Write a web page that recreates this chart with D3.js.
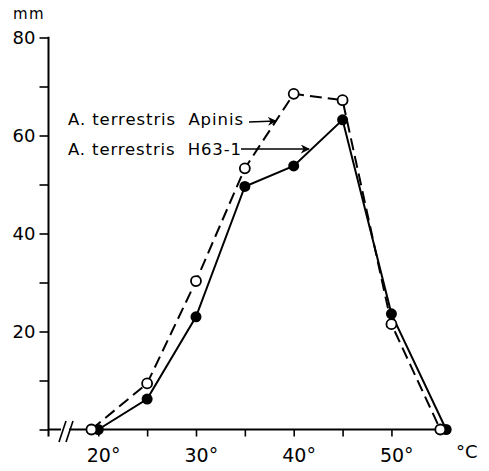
<!DOCTYPE html>
<html>
<head>
<meta charset="utf-8">
<script src="https://cdn.jsdelivr.net/npm/d3@7"></script>
<style>
  html, body { margin: 0; padding: 0; background: #fff; }
  svg { display: block; }
  text { font-family: "DejaVu Sans", "Liberation Sans", sans-serif; fill: #000; }
</style>
</head>
<body>
<svg id="chart" width="489" height="471"></svg>
<script>
// ---- data ----
const apinisTemp = [19.3, 25, 30, 35, 40, 45, 50, 55];
const apinisGrowth = [0, 9.4, 30.3, 53.3, 68.5, 67.2, 21.5, 0];
const h631Temp = [20, 25, 30, 35, 40, 45, 50, 55.6];
const h631Growth = [0, 6.2, 23.0, 49.6, 53.8, 63.2, 23.6, 0];
const xTicks = [20, 25, 30, 35, 40, 45, 50];
const xTickLabels = ["20°", "", "30°", "", "40°", "", "50°"];
const yTicks = [0, 10, 20, 30, 40, 50, 60, 70, 80];
const yTickLabels = ["", "", "20", "", "40", "", "60", "", "80"];
const seriesNames = ["A. terrestris  Apinis", "A. terrestris  H63-1"];
const yUnit = "mm";
const xUnit = "°C";

const svg = d3.select("#chart");
const x = d3.scaleLinear().domain([15, 55]).range([49.4, 440.3]);
const y = d3.scaleLinear().domain([0, 80]).range([429.5, 37.5]);

// ---- y axis ----
const yAxis = d3.axisLeft(y).tickValues(yTicks).tickSize(9)
  .tickFormat((d, i) => yTickLabels[i]);
const gy = svg.append("g").attr("transform", "translate(48.5,0)").call(yAxis);
gy.select(".domain").remove();
gy.selectAll(".tick line").attr("stroke", "#000").attr("stroke-width", 1.6);
gy.selectAll(".tick text").attr("font-size", 18).attr("x", -13).attr("dy", "0.36em")
  .attr("font-family", "DejaVu Sans");
svg.append("line").attr("x1", 48.5).attr("x2", 48.5).attr("y1", y(80) - 0.8).attr("y2", 436.5)
  .attr("stroke", "#000").attr("stroke-width", 2);
svg.append("text").attr("x", 13).attr("y", 19).attr("font-size", 15)
  .attr("letter-spacing", 1.5).text(yUnit);

// ---- x axis ----
const xAxis = d3.axisBottom(x).tickValues(xTicks).tickSize(7)
  .tickFormat((d, i) => xTickLabels[i]);
const gx = svg.append("g").attr("transform", "translate(0," + y(0) + ")").call(xAxis);
gx.select(".domain").remove();
gx.selectAll(".tick line").attr("stroke", "#000").attr("stroke-width", 1.6);
gx.selectAll(".tick text").attr("font-size", 19).attr("dy", 0).attr("y", 32)
  .attr("text-anchor", "start").attr("x", -12).attr("font-family", "DejaVu Sans");
// axis line with break
svg.append("line").attr("x1", 48).attr("x2", 61).attr("y1", y(0)).attr("y2", y(0))
  .attr("stroke", "#000").attr("stroke-width", 2);
svg.append("line").attr("x1", 69).attr("x2", 450).attr("y1", y(0)).attr("y2", y(0))
  .attr("stroke", "#000").attr("stroke-width", 2);
[[59, 66], [66, 73]].forEach(([a, b]) => {
  svg.append("line").attr("x1", a).attr("y1", 442).attr("x2", b).attr("y2", 421)
    .attr("stroke", "#000").attr("stroke-width", 1.6);
});
svg.append("text").attr("x", 456).attr("y", 458).attr("font-size", 18).text(xUnit);

// ---- series ----
const apinis = apinisTemp.map((t, i) => ({ t, g: apinisGrowth[i] }));
const h631 = h631Temp.map((t, i) => ({ t, g: h631Growth[i] }));
const line = d3.line().x(d => x(d.t)).y(d => y(d.g));

svg.append("path").datum(apinis).attr("d", line).attr("fill", "none")
  .attr("stroke", "#000").attr("stroke-width", 2).attr("stroke-dasharray", "12,6");
svg.append("path").datum(h631).attr("d", line).attr("fill", "none")
  .attr("stroke", "#000").attr("stroke-width", 2);

svg.selectAll("circle.h").data(h631).enter().append("circle").attr("class", "h")
  .attr("cx", d => x(d.t)).attr("cy", d => y(d.g)).attr("r", 5.5).attr("fill", "#000");
svg.selectAll("circle.a").data(apinis).enter().append("circle").attr("class", "a")
  .attr("cx", d => x(d.t)).attr("cy", d => y(d.g)).attr("r", 5)
  .attr("fill", "#fff").attr("stroke", "#000").attr("stroke-width", 1.8);

// ---- annotations ----
const defs = svg.append("defs");
defs.append("marker").attr("id", "arr").attr("viewBox", "0 0 10 10").attr("refX", 9).attr("refY", 5)
  .attr("markerWidth", 9).attr("markerHeight", 9).attr("markerUnits", "userSpaceOnUse")
  .attr("orient", "auto")
  .append("path").attr("d", "M0,0 L10,5 L0,10 L3,5 Z").attr("fill", "#000");

svg.append("text").attr("x", 68).attr("y", 125).attr("font-size", 16.5)
  .attr("textLength", 175).attr("xml:space", "preserve").text(seriesNames[0]);
svg.append("text").attr("x", 68).attr("y", 155).attr("font-size", 16.5)
  .attr("textLength", 173).attr("xml:space", "preserve").text(seriesNames[1]);
svg.append("line").attr("x1", 249).attr("y1", 122).attr("x2", 276).attr("y2", 121)
  .attr("stroke", "#000").attr("stroke-width", 1.6).attr("marker-end", "url(#arr)");
svg.append("line").attr("x1", 241).attr("y1", 149).attr("x2", 309).attr("y2", 149)
  .attr("stroke", "#000").attr("stroke-width", 1.6).attr("marker-end", "url(#arr)");
</script>
</body>
</html>
